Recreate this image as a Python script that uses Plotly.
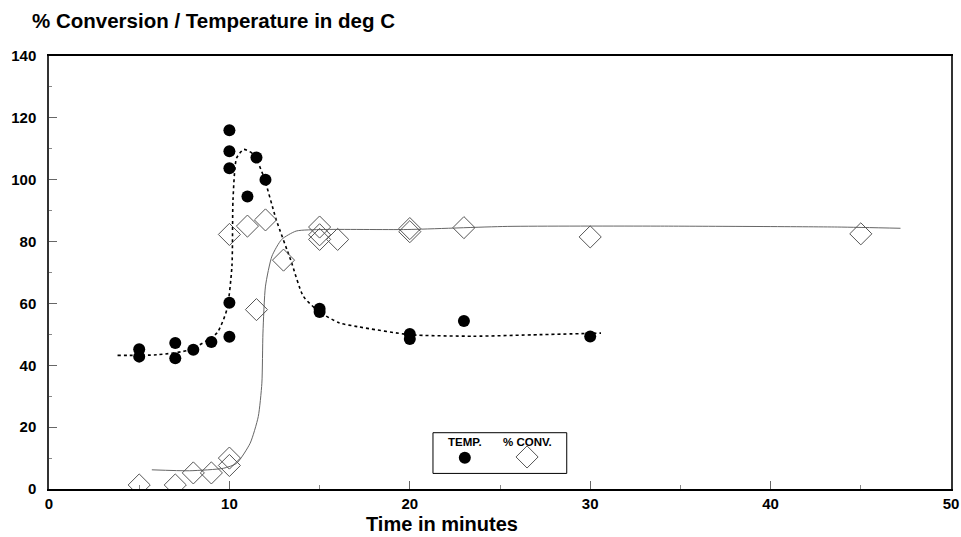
import plotly.graph_objects as go

# ---- data ----
temp_t = [5, 5, 7, 7, 8, 9, 10, 10, 10, 10, 10, 11, 11.5, 12, 15, 15, 20, 20, 23, 30]
temp_v = [45.2, 42.8, 47.2, 42.3, 45, 47.5, 49.2, 60.2, 103.7, 109.2, 116, 94.6, 107.2, 100, 58.3, 57.2, 50.1, 48.5, 54.3, 49.3]

conv_t = [5, 7, 8, 9, 10, 10, 10, 11, 11.5, 12, 13, 15, 15, 15, 16, 20, 20, 23, 30, 45]
conv_v = [1.3, 1.3, 5.2, 5.2, 10, 7.6, 82.3, 85, 58, 87, 74, 84.7, 82.2, 80.7, 80.7, 84.2, 83.2, 84.5, 81.5, 82.5]

# fitted curves
temp_fit_t = [3.8, 6.0, 7.8, 9.3, 9.86, 10.14, 10.2, 10.4, 10.8, 11.34, 11.9, 12.6, 13.4, 14.1, 15.0, 16.1, 17.1, 20.0, 23.5, 27.2, 30.6]
temp_fit_v = [43.2, 43.4, 45.0, 50.4, 58.0, 72.0, 93.6, 107.0, 109.8, 108.2, 101.0, 87.0, 74.0, 62.3, 57.2, 53.7, 52.5, 49.9, 49.4, 49.9, 50.4]

conv_fit_t = [5.7, 7.8, 9.67, 10.4, 11.15, 11.6, 11.8, 11.86, 12.0, 12.36, 12.9, 13.7, 15.2, 19.85, 25.4, 33.7, 43.7, 47.2]
conv_fit_v = [6.2, 5.9, 6.7, 8.3, 14.8, 23.4, 34.2, 50.4, 65.6, 75.3, 80.7, 83.4, 83.9, 83.9, 84.9, 85.0, 84.7, 84.3]

x_ticks = [0, 10, 20, 30, 40, 50]
y_ticks = [0, 20, 40, 60, 80, 100, 120, 140]

FONT = "Liberation Sans"

fig = go.Figure()

fig.add_trace(go.Scatter(x=conv_fit_t, y=conv_fit_v, mode="lines", line=dict(color="#666666", width=1, shape="spline", smoothing=0.6), hoverinfo="skip"))
fig.add_trace(go.Scatter(x=temp_fit_t, y=temp_fit_v, mode="lines", line=dict(color="#000000", width=1.6, dash="dot", shape="spline", smoothing=0.6), hoverinfo="skip"))
fig.add_trace(go.Scatter(x=conv_t, y=conv_v, mode="markers", name="% CONV.",
                         marker=dict(symbol="diamond-open", size=17, color="#555555", line=dict(width=1, color="#555555"))))
fig.add_trace(go.Scatter(x=temp_t, y=temp_v, mode="markers", name="TEMP.",
                         marker=dict(symbol="circle", size=12, color="#000000")))

# legend keys on an overlay axis in box-relative units
fig.add_trace(go.Scatter(x=[0.461], y=[0.072], xaxis="x2", yaxis="y2", mode="markers",
                         marker=dict(symbol="circle", size=12, color="#000000"), hoverinfo="skip"))
fig.add_trace(go.Scatter(x=[0.53], y=[0.074], xaxis="x2", yaxis="y2", mode="markers",
                         marker=dict(symbol="diamond-open", size=17, color="#555555", line=dict(width=1, color="#555555")), hoverinfo="skip"))

axis_font = dict(family=FONT, size=15, color="#000000", weight="bold")

fig.update_layout(
    width=961, height=537,
    autosize=False,
    margin=dict(l=49, r=10, t=56, b=48),
    paper_bgcolor="white", plot_bgcolor="white",
    showlegend=False,
    xaxis=dict(range=[0, 50], tickvals=x_ticks, ticks="inside", ticklen=8, tickcolor="#666666",
               showline=True, linecolor="#000000", linewidth=1.5, mirror=True, automargin=False,
               showgrid=False, zeroline=False, tickfont=axis_font,
               minor=dict(dtick=5, ticks="inside", ticklen=4, tickcolor="#888888")),
    yaxis=dict(range=[0, 140], tickvals=y_ticks, ticks="inside", ticklen=8, tickcolor="#666666",
               showline=True, linecolor="#333333", linewidth=1.5, mirror=True, automargin=False,
               showgrid=False, zeroline=False, tickfont=axis_font, ticklabelstandoff=8,
               minor=dict(dtick=10, ticks="inside", ticklen=3, tickcolor="#888888")),
    xaxis2=dict(range=[0, 1], overlaying="x", visible=False),
    yaxis2=dict(range=[0, 1], overlaying="y", visible=False),
    shapes=[dict(type="rect", xref="paper", yref="paper", x0=0.4257, x1=0.574, y0=0.036, y1=0.130,
                 line=dict(color="#000000", width=1), fillcolor="rgba(0,0,0,0)")],
    annotations=[
        dict(text="% Conversion / Temperature in deg C", xref="paper", yref="paper",
             x=(30 - 49) / 902, y=(489 - 21) / 433, xanchor="left", yanchor="middle", showarrow=False,
             font=dict(family=FONT, size=20.5, color="#000000", weight="bold")),
        dict(text="Time in minutes", xref="paper", yref="paper",
             x=(442 - 49) / 902, y=(489 - 524) / 433, xanchor="center", yanchor="middle", showarrow=False,
             font=dict(family=FONT, size=20, color="#000000", weight="bold")),
        dict(text="TEMP.", xref="paper", yref="paper", x=0.461, y=0.109, xanchor="center", yanchor="middle",
             showarrow=False, font=dict(family=FONT, size=11.5, color="#000000", weight="bold")),
        dict(text="% CONV.", xref="paper", yref="paper", x=0.53, y=0.109, xanchor="center", yanchor="middle",
             showarrow=False, font=dict(family=FONT, size=11.5, color="#000000", weight="bold")),
    ],
)

fig.write_html("out.html",
               config={"displayModeBar": False, "responsive": False},
               post_script="document.body.style.margin='0';document.body.style.overflow='hidden';")
